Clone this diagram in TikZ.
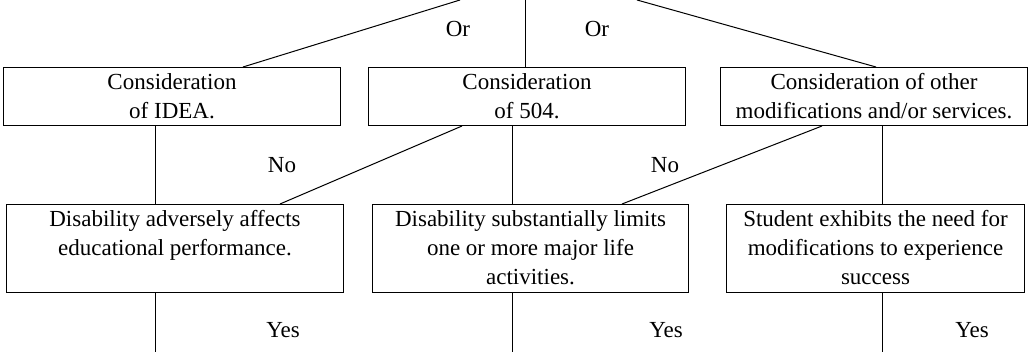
\documentclass[tikz,border=0pt]{standalone}
\usepackage{fontspec}
\setmainfont{Liberation Serif}
\newcommand{\boxtext}[3]{\parbox[c][#2pt][t]{#1pt}{\centering\fontsize{23}{28.7}\selectfont\rule{0pt}{22.5pt}#3}}
\tikzset{
  box/.style={draw, line width=1pt, inner sep=0pt, anchor=north west},
  conn/.style={line width=1pt},
  lbl/.style={font=\fontsize{23}{28}\selectfont, inner sep=0pt, anchor=base}
}
\begin{document}
\begin{tikzpicture}[x=1pt,y=-1pt]
\useasboundingbox[fill=white] (0,0) rectangle (1029,352);
% top row
\node[box] (b1) at (3,67)   {\boxtext{337}{58}{Consideration\\of IDEA.}};
\node[box] (b2) at (368,67) {\boxtext{317}{58}{Consideration\\of 504.}};
\node[box] (b3) at (720,67) {\boxtext{307}{58}{Consideration of other\\modifications and/or services.}};
% second row
\node[box] (b4) at (6,204)   {\boxtext{337}{88}{Disability adversely affects\\educational performance.}};
\node[box] (b5) at (372,204) {\boxtext{316}{88}{Disability substantially limits\\one or more major life\\activities.}};
\node[box] (b6) at (726,204) {\boxtext{298}{88}{Student exhibits the need for\\modifications to experience\\success}};
% free ends
\coordinate (t1) at (460,0);
\coordinate (t2) at (525,0);
\coordinate (t3) at (637,0);
\coordinate (y1) at (155,352);
\coordinate (y2) at (512,352);
\coordinate (y3) at (882,352);
% connectors from top
\draw[conn] (t1) -- (243,0 |- b1.north);
\draw[conn] (t2) -- (525,0 |- b2.north);
\draw[conn] (t3) -- (876,0 |- b3.north);
% row 1 to row 2
\draw[conn] (155,0 |- b1.south) -- (155,0 |- b4.north);
\draw[conn] (462,0 |- b2.south) -- (280,0 |- b4.north);
\draw[conn] (512,0 |- b2.south) -- (512,0 |- b5.north);
\draw[conn] (822,0 |- b3.south) -- (622,0 |- b5.north);
\draw[conn] (882,0 |- b3.south) -- (882,0 |- b6.north);
% row 2 down
\draw[conn] (155,0 |- b4.south) -- (y1);
\draw[conn] (512,0 |- b5.south) -- (y2);
\draw[conn] (882,0 |- b6.south) -- (y3);
% labels
\node[lbl] (or1) at (458,37) {Or};
\node[lbl] (or2) at (597,37) {Or};
\node[lbl] (no1) at (282,173) {No};
\node[lbl] (no2) at (665,173) {No};
\node[lbl] (ys1) at (283,338) {Yes};
\node[lbl] (ys2) at (666,338) {Yes};
\node[lbl] (ys3) at (972,338) {Yes};
\end{tikzpicture}
\end{document}
